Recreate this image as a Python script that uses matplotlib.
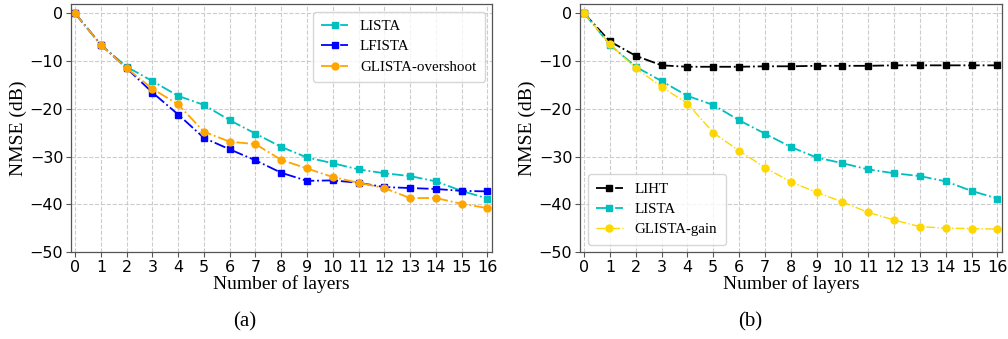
import matplotlib
matplotlib.use("Agg")
import matplotlib.pyplot as plt
import numpy as np

layers = list(range(17))
lista = [0, -6.6, -11.2, -14.2, -17.3, -19.2, -22.4, -25.2, -28.0, -30.2, -31.4, -32.7, -33.5, -34.1, -35.2, -37.2, -38.8]
lfista = [0, -6.6, -11.5, -16.6, -21.2, -26.1, -28.5, -30.8, -33.4, -35.1, -35.0, -35.5, -36.4, -36.6, -36.8, -37.2, -37.3]
glista_overshoot = [0, -6.6, -11.5, -15.8, -19.1, -24.8, -26.9, -27.4, -30.7, -32.5, -34.3, -35.5, -36.6, -38.7, -38.7, -39.9, -40.8]
liht = [0, -5.9, -8.9, -10.9, -11.2, -11.2, -11.2, -11.1, -11.1, -11.0, -11.0, -11.0, -10.9, -10.9, -10.9, -10.9, -10.9]
glista_gain = [0, -6.5, -11.5, -15.4, -18.9, -25.0, -28.8, -32.3, -35.3, -37.5, -39.5, -41.7, -43.3, -44.7, -45.0, -45.1, -45.2]

yticks = [0, -10, -20, -30, -40, -50]
serif = ["Liberation Serif", "DejaVu Serif"]

fig = plt.figure(figsize=(10.08, 3.39), dpi=100)
ax1 = fig.add_axes([71/1008, 1-252/339, (492-71)/1008, (252-4)/339])
ax2 = fig.add_axes([580/1008, 1-252/339, (1002-580)/1008, (252-4)/339])

def style(ax):
    ax.set_xlim(-0.16, 16.18)
    ax.set_ylim(-50, 1.95)
    ax.set_xticks(layers)
    ax.set_yticks(yticks)
    ax.tick_params(labelsize=11.5, length=3.5, width=0.8, color="#555555", pad=2)
    ax.grid(True, linestyle="--", color="#cccccc", linewidth=0.8)
    for s in ax.spines.values():
        s.set_color("#555555")
        s.set_linewidth(0.9)
    ax.set_xlabel("Number of layers", family=serif, fontsize=14, labelpad=0)
    ax.set_ylabel("NMSE (dB)", family=serif, fontsize=14, labelpad=2)

ms = 5
ax1.plot(layers, lista, "-.", color="c", marker="s", markersize=ms, lw=1.3, label="LISTA")
ax1.plot(layers, lfista, "-.", color="b", marker="s", markersize=ms, lw=1.3, label="LFISTA")
ax1.plot(layers, glista_overshoot, "-.", color="orange", marker="o", markersize=ms, lw=1.3, label="GLISTA-overshoot")
style(ax1)
ax1.legend(loc="upper right", prop={"family": serif, "size": 10.8}, handlelength=1.8,
           borderpad=0.55, labelspacing=0.45, borderaxespad=0.5, fancybox=True)

ax2.plot(layers, liht, "-.", color="k", marker="s", markersize=ms, lw=1.3, label="LIHT")
ax2.plot(layers, lista, "-.", color="c", marker="s", markersize=ms, lw=1.3, label="LISTA")
ax2.plot(layers, glista_gain, "-.", color="gold", marker="o", markersize=ms, lw=1.0, label="GLISTA-gain")
style(ax2)
ax2.legend(loc="lower left", prop={"family": serif, "size": 10.8}, handlelength=1.8,
           borderpad=0.55, labelspacing=0.45, borderaxespad=0.5, fancybox=True)

fig.text(245/1008, 1-322/339, "(a)", family=serif, fontsize=15, ha="center", va="center")
fig.text(750/1008, 1-322/339, "(b)", family=serif, fontsize=15, ha="center", va="center")

fig.savefig("out.png", dpi=100)
